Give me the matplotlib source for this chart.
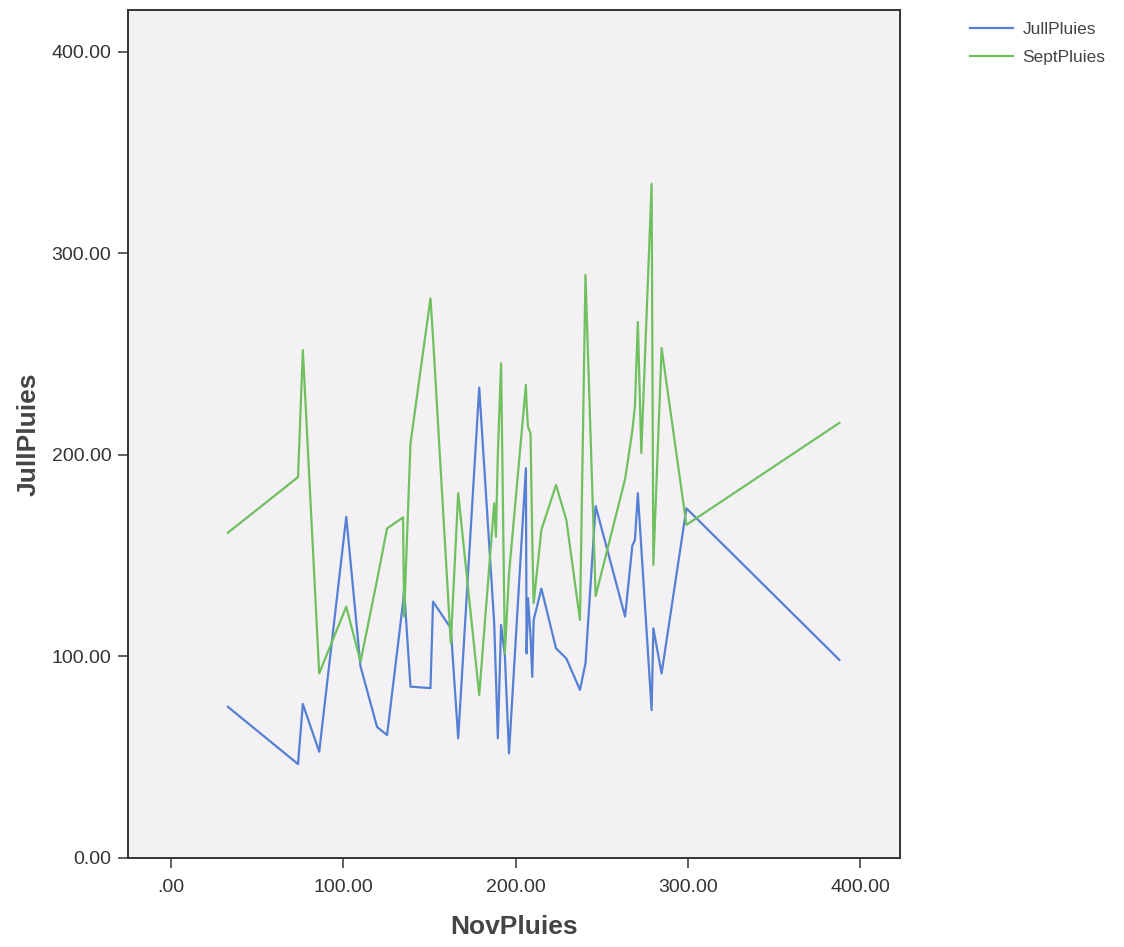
import matplotlib
matplotlib.use("Agg")
import matplotlib.pyplot as plt

plt.rcParams['font.family'] = ['Liberation Sans', 'DejaVu Sans']

# valeurs (triées par NovPluies)
nov_pluies = [33, 73.7, 76.5, 86, 101.7, 110, 119.6, 125.4, 134.7, 135.3, 139,
              150.6, 152.1, 162.4, 166.7, 178.9, 187.6, 188.6, 189.7, 191.6,
              193.8, 196.2, 206.0, 206.4, 207.2, 208.7, 209.7, 210.5, 215.0,
              223.5, 229.5, 237.4, 240.6, 246.5, 263.6, 267.8, 269.3, 271.0,
              273.0, 279.0, 280.0, 284.8, 299.2, 388.0]
jull_pluies = [75, 46.6, 76.4, 52.7, 169.3, 95, 65, 61, 127, 133, 85,
               84.3, 127.2, 114, 59.4, 233.4, 116.4, 90, 59.4, 115.6,
               100.5, 51.9, 193.4, 101.5, 129, 110, 89.9, 118, 133.7,
               104, 99, 83.4, 96.6, 174.6, 119.8, 155, 157.8, 181,
               154, 73.4, 113.9, 91.6, 173.5, 98.3]
sept_pluies = [161.4, 189, 252, 91.6, 124.7, 97.4, 138, 163.5, 169, 119.8, 205.8,
               277.7, 258, 106.5, 181, 80.9, 176, 159.4, 200, 245.5,
               101.5, 141, 234.7, 225, 214, 210.7, 158, 126.4, 162.8,
               185.1, 167.7, 118.1, 289.3, 130, 188, 212, 224, 266,
               201, 334.5, 145.4, 253, 165.3, 215.9]

x_ticks = [0, 100, 200, 300, 400]
x_labels = ['.00', '100.00', '200.00', '300.00', '400.00']
y_ticks = [0, 100, 200, 300, 400]
y_labels = ['0.00', '100.00', '200.00', '300.00', '400.00']

fig = plt.figure(figsize=(11.24, 9.47), dpi=100)
ax = fig.add_axes([0.1139, 0.094, 0.6868, 0.8955])
ax.set_facecolor('#f3f1f3')

ax.plot(nov_pluies, jull_pluies, color='#5580d4', lw=1.6, label='JullPluies')
ax.plot(nov_pluies, sept_pluies, color='#6fc05f', lw=1.6, label='SeptPluies')

ax.set_xlim(-25, 423.2)
ax.set_ylim(0, 420.8)
ax.set_xticks(x_ticks)
ax.set_xticklabels(x_labels)
ax.set_yticks(y_ticks)
ax.set_yticklabels(y_labels)
ax.tick_params(direction='out', length=7, width=1.2, color='#444444',
               labelsize=14, labelcolor='#333333')
ax.tick_params(axis='x', pad=8)
ax.tick_params(axis='y', pad=5)

for s in ax.spines.values():
    s.set_color('#333333')
    s.set_linewidth(1.4)

ax.set_xlabel('NovPluies', fontsize=19, fontweight='bold', color='#444444', labelpad=14)
ax.set_ylabel('JullPluies', fontsize=19, fontweight='bold', color='#444444', labelpad=8)

leg = ax.legend(loc='upper left', bbox_to_anchor=(1.07, 1.004), frameon=False,
                fontsize=12.5, handlelength=2.5, handletextpad=0.55, labelspacing=0.72)
for t in leg.get_texts():
    t.set_color('#444444')

fig.savefig('out.png', dpi=100, facecolor='white')
